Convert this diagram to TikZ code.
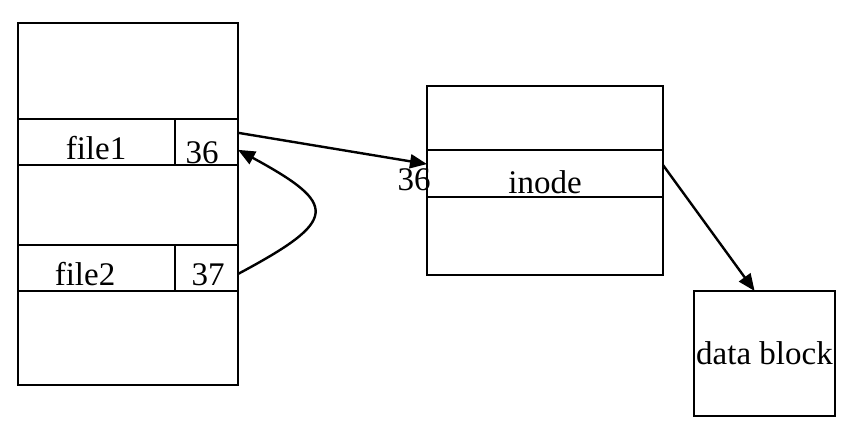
\documentclass[tikz,border=0pt]{standalone}
\usepackage{fontspec}
\setmainfont{Liberation Serif}
\usetikzlibrary{arrows.meta,calc}
\begin{document}
\begin{tikzpicture}[x=1pt,y=-1pt,
  region/.style={draw,line width=2pt,inner sep=0pt,outer sep=0pt,anchor=north west},
  lbl/.style={anchor=base,inner sep=0pt,font=\fontsize{33}{39}\selectfont},
  link/.style={line width=2.4pt,-{Triangle[length=17pt,width=14pt]}}]
\useasboundingbox (0,0) rectangle (851,433);

% directory table
\node[region,minimum width=220pt,minimum height=362pt] (dir) at (18,23) {};
\node[region,minimum width=157pt,minimum height=46pt] (name1) at (18,119) {};
\node[region,minimum width=63pt,minimum height=46pt] (num1) at (175,119) {};
\node[region,minimum width=157pt,minimum height=46pt] (name2) at (18,245) {};
\node[region,minimum width=63pt,minimum height=46pt] (num2) at (175,245) {};

\node[lbl] (file1) at (96,160) {file1};
\node[lbl] (n36) at (202,163) {36};
\node[lbl] (file2) at (85,285) {file2};
\node[lbl] (n37) at (208,285) {37};

% inode table
\node[region,minimum width=236pt,minimum height=189pt] (itab) at (427,86) {};
\node[region,minimum width=236pt,minimum height=47pt] (irow) at (427,150) {};
\node[lbl] (inode) at (545,193) {inode};
\node[lbl] (i36) at (414,190) {36};

% data block
\node[region,minimum width=141pt,minimum height=125pt,
      font=\fontsize{33}{39}\selectfont] (data) at (694,291) {data block};

% connectors
\coordinate (a1) at ($(num1.north east)!0.3!(num1.south east)$);
\coordinate (a2) at ($(irow.north west)!0.3!(irow.south west)$);
\draw[link] (a1) -- (a2);

\coordinate (b1) at ($(num2.north east)!0.63!(num2.south east)$);
\coordinate (b2) at ($(num1.north east)!0.67!(num1.south east)$);
\coordinate (bc1) at ($(b1)+(101,-54)$);
\coordinate (bc2) at ($(b2)+(101,55)$);
\draw[link] (b1) .. controls (bc1) and (bc2) .. (b2);

\coordinate (c1) at ($(irow.north east)!0.32!(irow.south east)$);
\coordinate (c2) at ($(data.north west)!0.43!(data.north east)$);
\draw[link] (c1) -- (c2);
\end{tikzpicture}
\end{document}
